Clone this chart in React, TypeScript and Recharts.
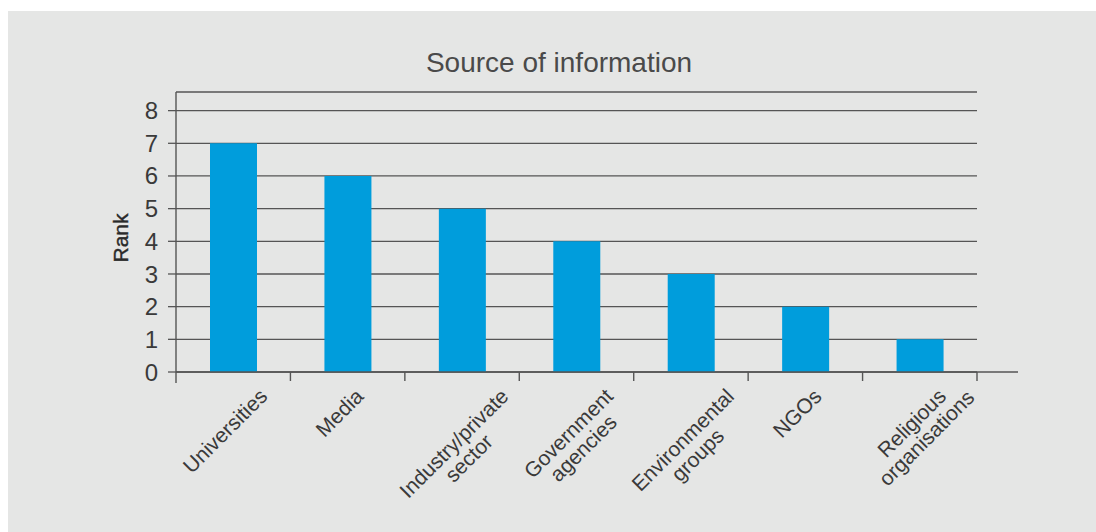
import React from 'react';
import { BarChart, Bar, XAxis, YAxis, CartesianGrid } from 'recharts';

const categories = [
  'Universities',
  'Media',
  'Industry/private\nsector',
  'Government\nagencies',
  'Environmental\ngroups',
  'NGOs',
  'Religious\norganisations',
];
const ranks = [7, 6, 5, 4, 3, 2, 1];
const yTicks = [0, 1, 2, 3, 4, 5, 6, 7, 8];
const title = 'Source of information';
const yLabel = 'Rank';

const data = categories.map((name, i) => ({ name, rank: ranks[i] }));

const FONT = '"Liberation Sans", Arial, Helvetica, sans-serif';
const FS = 21;
const TEXT = '#3a3a3a';
const LINE = '#555555';

let ctx: CanvasRenderingContext2D | null = null;
function measure(s: string): number {
  if (!ctx && typeof document !== 'undefined') {
    ctx = document.createElement('canvas').getContext('2d');
  }
  if (ctx) {
    ctx.font = `${FS}px "Liberation Sans", Arial, sans-serif`;
    return ctx.measureText(s).width;
  }
  return s.length * FS * 0.55;
}

const XTick = (props: any) => {
  const { x, y, payload, index } = props;
  const off = payload && payload.offset != null ? payload.offset : 0;
  const lines = String(payload.value).split('\n');
  const lh = 21;
  const a = 0.72 * FS;
  const k = Math.SQRT1_2;
  const ws = lines.map(measure);
  let minY = Infinity;
  ws.forEach((w, i) => {
    const v = i * lh;
    minY = Math.min(minY, k * (-w / 2 + v - a));
  });
  const px = x - 3;
  const py = y + 15 - minY;
  return (
    <g>
      <line x1={x + off} y1={y} x2={x + off} y2={y + 9} stroke={LINE} strokeWidth={1.4} />
      {index === 0 && (
        <line x1={x - off} y1={y} x2={x - off} y2={y + 11} stroke={LINE} strokeWidth={1.4} />
      )}
      <text
        transform={`rotate(-45, ${px}, ${py})`}
        x={px}
        y={py}
        textAnchor="middle"
        fontSize={FS}
        fontFamily={FONT}
        fill={TEXT}
      >
        {lines.map((l, i) => (
          <tspan key={i} x={px} y={py + i * lh}>
            {l}
          </tspan>
        ))}
      </text>
    </g>
  );
};

const YLabel = (p: any) => {
  const vb = p.viewBox || { x: 108, y: 81, width: 60, height: 280 };
  const cx = vb.x + 4;
  const cy = vb.y + vb.height / 2 + 6;
  return (
    <text
      x={cx}
      y={cy}
      transform={`rotate(-90, ${cx}, ${cy})`}
      textAnchor="middle"
      dominantBaseline="central"
      fontSize={21}
      fontFamily={FONT}
      fill="#2a2a2a"
      stroke="#2a2a2a"
      strokeWidth={0.4}
    >
      {yLabel}
    </text>
  );
};

export default function App() {
  const W = 1088;
  const H = 521;
  const margin = { top: 81, right: 78, left: 108, bottom: 20 };
  const yAxisW = 60;
  const padRight = 41;
  const gridWidth = W - margin.left - margin.right - yAxisW - padRight;
  return (
    <div
      style={{
        position: 'absolute',
        left: 8,
        top: 11,
        width: W,
        height: H,
        background: '#e5e6e5',
        overflow: 'hidden',
        fontFamily: FONT,
      }}
    >
      <div
        style={{
          position: 'absolute',
          left: 551,
          top: 38,
          transform: 'translateX(-50%)',
          fontSize: 28,
          lineHeight: '28px',
          color: '#4a4a4a',
          whiteSpace: 'nowrap',
          fontFamily: FONT,
        }}
      >
        {title}
      </div>
      <BarChart width={W} height={H} data={data} margin={margin}>
        <CartesianGrid
          vertical={false}
          stroke={LINE}
          strokeWidth={1.3}
          width={gridWidth}
        />
        <XAxis
          dataKey="name"
          interval={0}
          height={140}
          tickLine={false}
          tickSize={0}
          tickMargin={0}
          padding={{ left: 0, right: padRight }}
          axisLine={{ stroke: LINE, strokeWidth: 1.4 }}
          tick={<XTick />}
        />
        <YAxis
          width={yAxisW}
          domain={[0, 8.57]}
          ticks={yTicks}
          interval={0}
          tickSize={8}
          tickMargin={10}
          tickLine={{ stroke: LINE, strokeWidth: 1.3 }}
          axisLine={{ stroke: LINE, strokeWidth: 1.4 }}
          tick={{ fontSize: 24, fill: TEXT, fontFamily: FONT }}
          label={{ content: <YLabel /> }}
        />
        <Bar dataKey="rank" fill="#009ddc" barSize={47} isAnimationActive={false} />
      </BarChart>
    </div>
  );
}
